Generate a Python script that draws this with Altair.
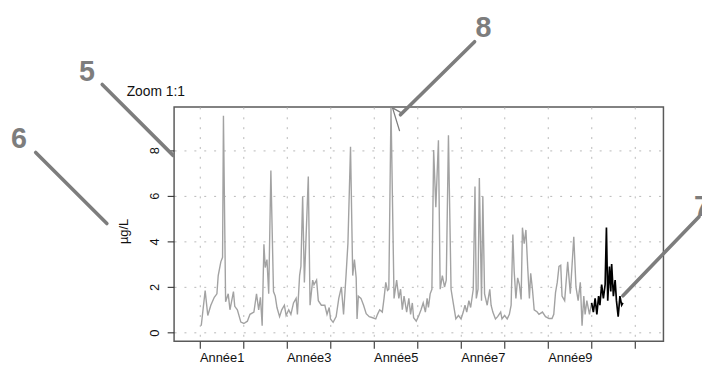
import altair as alt
import pandas as pd

# ---- data ----
years_gray = [1.04,1.13,1.19,1.26,1.34,1.40,1.43,1.49,1.53,1.55,1.60,1.66,1.70,1.78,1.81,1.87,1.95,2.02,2.10,2.16,
              2.25,2.31,2.36,2.40,2.44,2.48,2.51,2.55,2.59,2.64,2.70,2.74,2.78,2.84,2.89,2.95,2.99,3.05,3.10,3.16,
              3.22,3.25,3.30,3.33,3.37,3.41,3.50,3.54,3.60,3.63,3.69,3.73,3.80,3.88,3.93,3.98,4.01,4.07,4.14,4.20,
              4.26,4.31,4.37,4.41,4.47,4.52,4.56,4.60,4.62,4.65,4.71,4.77,4.83,4.90,4.98,5.05,5.09,5.14,5.20,5.24,
              5.28,5.32,5.35,5.40,5.47,5.53,5.58,5.62,5.66,5.70,5.76,5.81,5.85,5.89,5.92,5.98,6.04,6.09,6.14,6.19,
              6.23,6.26,6.30,6.34,6.38,6.43,6.49,6.53,6.58,6.63,6.67,6.72,6.78,6.83,6.89,6.95,7.01,7.06,7.10,7.14,
              7.19,7.23,7.29,7.33,7.36,7.40,7.43,7.48,7.51,7.55,7.61,7.67,7.70,7.74,7.80,7.85,7.92,7.95,8.01,8.07,
              8.12,8.16,8.20,8.23,8.27,8.31,8.35,8.39,8.42,8.46,8.50,8.54,8.58,8.61,8.65,8.69,8.76,8.80,8.88,8.95,
              9.03,9.10,9.14,9.18,9.22,9.26,9.30,9.33,9.39,9.46,9.52,9.60,9.65,9.70,9.75,9.79,9.83,9.86,9.90,9.96,
              10.01]
values_gray = [0.3,1.84,0.75,1.2,1.55,1.7,2.5,3.1,3.3,9.5,1.35,1.7,1.0,1.8,1.15,1.0,0.46,0.4,0.5,0.8,
               0.9,1.7,1.0,1.55,0.3,3.87,2.85,3.2,1.7,7.1,1.8,1.6,1.1,0.7,1.0,1.2,0.75,1.0,0.8,1.3,
               1.5,0.8,2.5,2.9,5.97,2.2,6.84,1.2,2.3,2.1,2.3,1.4,1.2,1.2,0.8,1.1,0.6,0.45,0.7,1.5,
               2.0,0.8,2.6,3.9,8.14,2.5,3.2,2.4,0.6,1.6,1.5,1.2,0.83,0.7,0.65,0.6,0.8,1.0,0.9,1.5,
               2.2,1.85,1.9,9.85,1.5,2.3,1.5,1.9,1.0,1.6,0.9,1.5,0.8,1.3,0.65,0.5,0.75,1.0,1.3,0.9,
               1.5,1.1,1.7,1.9,8.0,5.5,8.43,1.9,2.5,2.0,2.3,8.65,1.9,1.3,0.6,0.75,0.6,0.9,1.2,0.9,
               1.4,1.1,1.9,6.4,1.5,1.9,6.77,1.4,5.97,1.7,1.2,1.9,1.2,0.9,0.6,0.7,0.9,0.6,0.75,0.6,
               0.8,1.2,4.3,2.7,1.5,2.4,2.1,1.45,4.6,3.9,4.5,2.9,1.5,2.6,1.9,1.0,0.9,0.8,0.9,0.7,
               0.62,0.62,0.8,1.75,2.2,2.9,2.95,1.6,1.4,3.1,1.7,4.2,2.0,1.4,2.2,0.3,1.6,0.8,1.4,0.8,
               1.3]

years_black = [10.01,10.05,10.09,10.13,10.17,10.20,10.24,10.28,10.32,10.35,10.38,10.42,10.45,10.47,10.51,
               10.55,10.58,10.62,10.66,10.70,10.73]
values_black = [1.3,0.9,1.5,0.8,1.6,1.2,2.1,1.5,2.1,4.6,1.4,2.9,1.8,3.0,1.6,2.3,1.4,0.7,1.6,1.2,1.3]

tick_years = [1, 2, 3, 4, 5, 6, 7, 8, 9, 10, 11]
labeled_years = [1, 3, 5, 7, 9]
year_labels = ["Année1", "Année3", "Année5", "Année7", "Année9"]
y_ticks = [0, 2, 4, 6, 8]

title_text = "Zoom 1:1"
y_title = "µg/L"

gray_df = pd.DataFrame({"year": years_gray, "value": values_gray})
black_df = pd.DataFrame({"year": years_black, "value": values_black})

label_expr = " : ".join(
    f"datum.value == {y} ? '{t}'" for y, t in zip(labeled_years, year_labels)
) + " : ''"

FONT = "Liberation Sans"
GRID = "#b8b8b8"

x_enc = alt.X(
    "year:Q",
    scale=alt.Scale(domain=[0.416, 11.66], nice=False, zero=False),
    axis=alt.Axis(
        values=tick_years, labelExpr=label_expr, title=None, grid=True,
        gridDash=[2, 8], gridColor=GRID, gridWidth=1, domain=False,
        tickSize=7, tickColor="#333333", tickWidth=1.1,
        labelAlign="left", labelBaseline="top", labelPadding=4,
        labelFont=FONT, labelFontSize=13, labelColor="#111111",
        labelOverlap=False, labelFlush=False,
    ),
)
y_enc = alt.Y(
    "value:Q",
    scale=alt.Scale(domain=[-0.378, 9.89], nice=False, zero=False),
    axis=alt.Axis(
        values=y_ticks, title=None, grid=True, gridDash=[2, 8], gridColor=GRID,
        gridWidth=1, domain=False, tickSize=7, tickColor="#333333", tickWidth=1.1,
        labelAngle=270, labelAlign="center", labelBaseline="alphabetic",
        labelPadding=9, labelFont=FONT, labelFontSize=13, labelColor="#111111",
        labelOverlap=False, labelFlush=False,
    ),
)

gray_line = alt.Chart(gray_df).mark_line(color="#a2a2a2", strokeWidth=1.4).encode(x=x_enc, y=y_enc)
black_line = alt.Chart(black_df).mark_line(color="#000000", strokeWidth=1.7).encode(x="year:Q", y="value:Q")

one = pd.DataFrame({"k": [0]})
ANN = "#7d7d7d"


def num(t, x, y, align="center"):
    return alt.Chart(one).mark_text(
        text=t, font=FONT, fontSize=29, fontWeight="bold", color=ANN,
        align=align, baseline="alphabetic",
    ).encode(x=alt.value(x), y=alt.value(y))


def seg(x1, y1, x2, y2, w=3.6):
    return alt.Chart(one).mark_rule(color=ANN, strokeWidth=w, strokeCap="round").encode(
        x=alt.value(x1), y=alt.value(y1), x2=alt.value(x2), y2=alt.value(y2)
    )


title = alt.Chart(one).mark_text(
    text=title_text, font=FONT, fontSize=14, color="#111111", align="left", baseline="alphabetic"
).encode(x=alt.value(-48), y=alt.value(-11))

ytitle = alt.Chart(one).mark_text(
    text=y_title, font=FONT, fontSize=13, color="#111111", angle=270, align="center", baseline="middle"
).encode(x=alt.value(-51), y=alt.value(126))

annos = [
    num("5", -88, -26), seg(-72.7, -22.7, -1, 49),
    num("6", -157, 42), seg(-140, 46, -68, 118),
    num("8", 313, -71), seg(304, -66, 229, 8),
    seg(221, 1, 228, 24, 1.3), seg(221, 1, 230, 6, 1.3),
    num("7", 526, 110, align="left"), seg(454, 191, 531, 111),
]

chart = alt.layer(gray_line, black_line, title, ytitle, *annos).properties(
    width=495, height=237,
    padding={"left": 168, "top": 98, "right": 39, "bottom": 24},
    autosize=alt.AutoSizeParams(type="none"),
).configure_view(stroke="#5a5a5a", strokeWidth=1.5)

chart.save("out.html", embed_options={"renderer": "svg", "actions": False})
